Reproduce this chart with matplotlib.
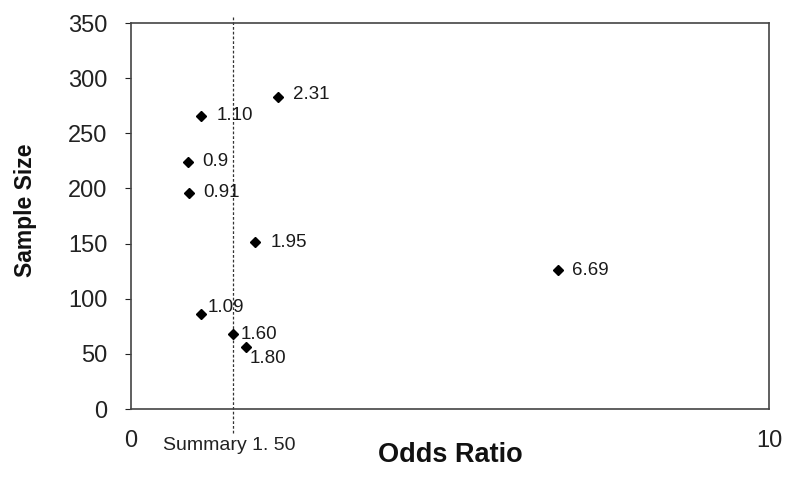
import matplotlib
matplotlib.use("Agg")
import matplotlib.pyplot as plt

odds_ratio = [2.31, 1.10, 0.90, 0.91, 1.95, 6.69, 1.09, 1.60, 1.80]
sample_size = [283, 266, 224, 196, 151, 126, 86, 68, 56]
point_labels = ["2.31", "1.10", "0.9", "0.91", "1.95", "6.69", "1.09", "1.60", "1.80"]
summary_x = 1.6
summary_label = "Summary 1. 50"
y_ticks = [0, 50, 100, 150, 200, 250, 300, 350]
x_ticks = [0, 10]

# label offsets in pixels (style only)
offsets = [(15, 2), (15, 0), (14, 0), (14, 0), (15, 0), (14, 0), (7, 7), (8, 0), (4, -11)]

plt.rcParams['font.family'] = ['Liberation Sans', 'DejaVu Sans']

fig = plt.figure(figsize=(7.85, 4.87), dpi=100)
ax = fig.add_axes([131/785, 1 - 409/487, (769 - 131)/785, (409 - 23)/487])

ax.set_xlim(0, 10)
ax.set_ylim(0, 350)

ax.plot(odds_ratio, sample_size, linestyle='none', marker='D', markersize=5,
        color='black', zorder=3)

for x, y, lab, (dx, dy) in zip(odds_ratio, sample_size, point_labels, offsets):
    ax.annotate(lab, (x, y), xytext=(dx, dy), textcoords='offset pixels',
                ha='left', va='center', fontsize=13.5, color='#1a1a1a')

# summary dashed line extending slightly beyond the frame
ax.plot([summary_x, summary_x], [-22, 356], linestyle=(0, (2.2, 1.6)), color='#333333',
        linewidth=0.9, clip_on=False, zorder=2)
ax.text(summary_x - 0.06, -33, summary_label, ha='center', va='center', fontsize=14,
        color='#222222', transform=ax.transData, clip_on=False)

ax.set_yticks(y_ticks)
ax.set_xticks(x_ticks)
ax.tick_params(axis='y', direction='out', length=4, width=0.8, pad=13,
               labelsize=17, colors='#222222')
ax.tick_params(axis='x', length=0, pad=15, labelsize=17, colors='#222222')

for s in ax.spines.values():
    s.set_color('#444444')
    s.set_linewidth(1.2)

ax.set_ylabel("Sample Size", fontsize=16.5, fontweight='bold', color='#111111')
ax.yaxis.set_label_coords(-0.148, 0.515)
ax.set_xlabel("Odds Ratio", fontsize=19.5, fontweight='bold', color='#111111')
ax.xaxis.set_label_coords(0.5, -0.086)

fig.savefig("out.png", dpi=100)
